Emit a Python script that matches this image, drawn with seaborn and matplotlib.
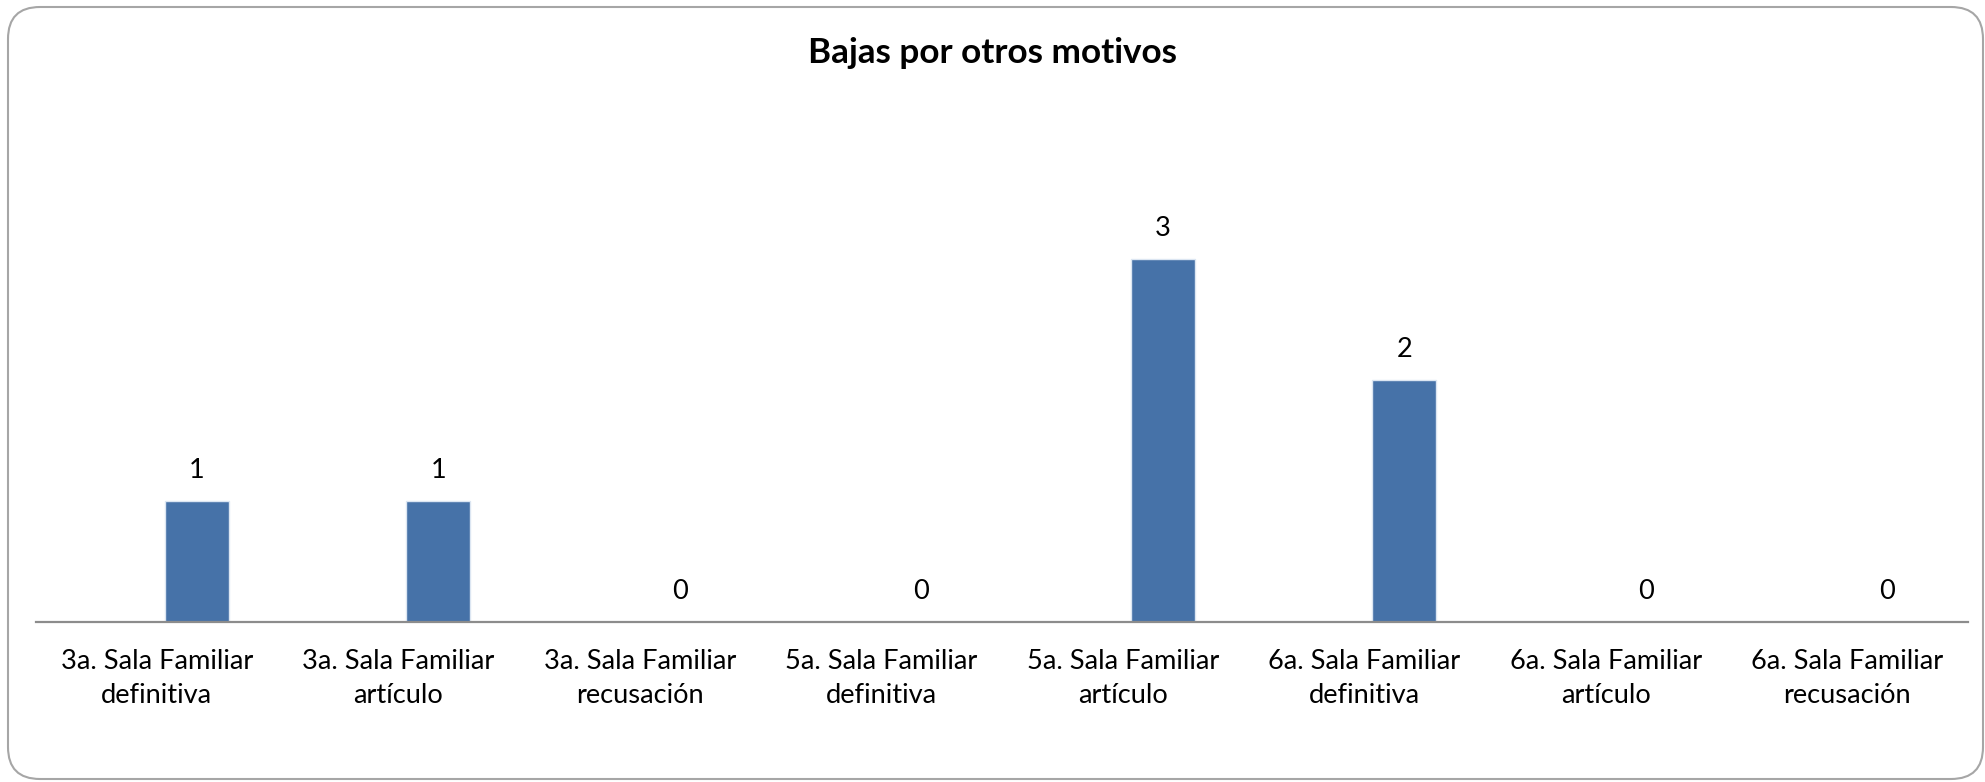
import matplotlib
matplotlib.use("agg")
import matplotlib.pyplot as plt
from matplotlib.patches import FancyBboxPatch
from matplotlib.transforms import IdentityTransform
import pandas as pd
import seaborn as sns
import numpy as np

# datos
salas = ["3a. Sala Familiar\ndefinitiva", "3a. Sala Familiar\nartículo",
         "3a. Sala Familiar\nrecusación", "5a. Sala Familiar\ndefinitiva",
         "5a. Sala Familiar\nartículo", "6a. Sala Familiar\ndefinitiva",
         "6a. Sala Familiar\nartículo", "6a. Sala Familiar\nrecusación"]
bajas = [1, 1, 0, 0, 3, 2, 0, 0]
series = ["(vacía)", "Bajas"]

d = pd.DataFrame({"sala": salas * 2,
                  "valor": [np.nan] * len(salas) + bajas,
                  "serie": [series[0]] * len(salas) + [series[1]] * len(salas)})

sns.set_style("white")
plt.rcParams["font.family"] = ["Lato", "DejaVu Sans"]

fig = plt.figure(figsize=(19.85, 7.82), dpi=100)
ax = fig.add_axes([36 / 1985, 160.3 / 782, 1932 / 1985, 484 / 782])

sns.barplot(data=d, x="sala", y="valor", hue="serie", hue_order=series,
            order=salas, palette=["#4672A8", "#4672A8"], saturation=1,
            width=0.662, gap=0.2, legend=False, ax=ax,
            edgecolor="#dce6f2", linewidth=1)

ax.bar_label(ax.containers[-1], fontsize=19.5, padding=13, color="black")

ax.set_xlim(-0.5, len(salas) - 0.5)
ax.set_ylim(0, 4)
ax.set_xlabel("")
ax.set_ylabel("")
ax.set_yticks([])
ax.tick_params(axis="x", length=0, pad=20, labelsize=19.6, colors="black")
for lab in ax.get_xticklabels():
    lab.set_linespacing(1.45)
for s in ["left", "right", "top"]:
    ax.spines[s].set_visible(False)
ax.spines["bottom"].set_color("#8c8c8c")
ax.spines["bottom"].set_linewidth(1.6)

fig.text(0.5, 1 - 53 / 782, "Bajas por otros motivos", ha="center", va="center",
         fontsize=25.3, fontweight="bold", color="black")

frame = FancyBboxPatch((8, 3), 1975, 772, boxstyle="round,pad=0,rounding_size=32",
                       transform=IdentityTransform(), facecolor="none",
                       edgecolor="#a6a6a6", linewidth=1.5)
fig.patches.append(frame)

plt.savefig("out.png", dpi=100)
